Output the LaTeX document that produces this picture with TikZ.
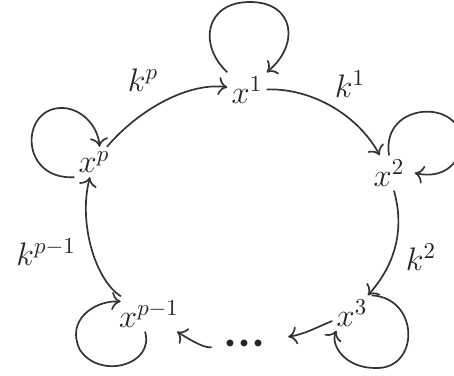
\documentclass[tikz,border=0pt]{standalone}
\usepackage{fix-cm}
\usetikzlibrary{arrows.meta}
\begin{document}
\begin{tikzpicture}[x=0.5pt,y=-0.5pt,
  every node/.style={font=\fontsize{16.3}{19}\selectfont, text=black!85, inner sep=2pt},
  edge/.style={draw=black!80, line width=0.85pt, -{To[length=4.5pt,width=9pt]}}]
\useasboundingbox (0,0) rectangle (454,375);
\node (x1) at (247,90) {$x^1$};
\node (x2) at (389,173) {$x^2$};
\node (x3) at (352,313) {$x^3$};
\node[font=\fontsize{22}{22}\selectfont\boldmath, inner sep=0pt] (dots) at (245,344) {${\cdot}{\cdot}{\cdot}$};
\node (xp1) at (149,314) {$x^{p-1}$};
\node (xp) at (94,162) {$x^p$};
\node (lkp) at (143,80) {$k^p$};
\node (lk1) at (350,84) {$k^1$};
\node (lk2) at (421,257) {$k^2$};
\node (lkp1) at (46,252) {$k^{p-1}$};
% main cycle
\draw[edge] (xp) .. controls (140,108) and (190,82) .. (x1);
\draw[edge] (x1) .. controls (315,88) and (360,118) .. (x2);
\draw[edge] (x2) .. controls (405,230) and (395,265) .. (x3);
\draw[edge, shorten >=11pt] (x3) .. controls (315,328) and (305,334) .. (dots);
\draw[edge, shorten <=6pt] (dots) .. controls (205,348) and (195,343) .. (xp1);
\draw[edge] (xp1) .. controls (95,280) and (78,222) .. (xp);
% loops
\draw[edge] (x1.north west) .. controls (198,45) and (205,2) .. (250,2) .. controls (295,2) and (300,45) .. (x1.north east);
\draw[edge] (x2.north) .. controls (380,98) and (472,98) .. (460,150) .. controls (455,170) and (437,178) .. ([xshift=3pt]x2.east);
\draw[edge] (x3.north east) .. controls (420,298) and (420,370) .. (375,368) .. controls (345,368) and (330,345) .. ([xshift=2pt]x3.south west);
\draw[edge] ([xshift=-2pt]xp1.south) .. controls (155,365) and (100,380) .. (80,350) .. controls (65,320) and (95,300) .. ([xshift=3pt]xp1.160);
\draw[edge] (xp.south west) .. controls (20,180) and (20,110) .. (60,108) .. controls (80,107) and (98,125) .. (xp.70);
\end{tikzpicture}
\end{document}
